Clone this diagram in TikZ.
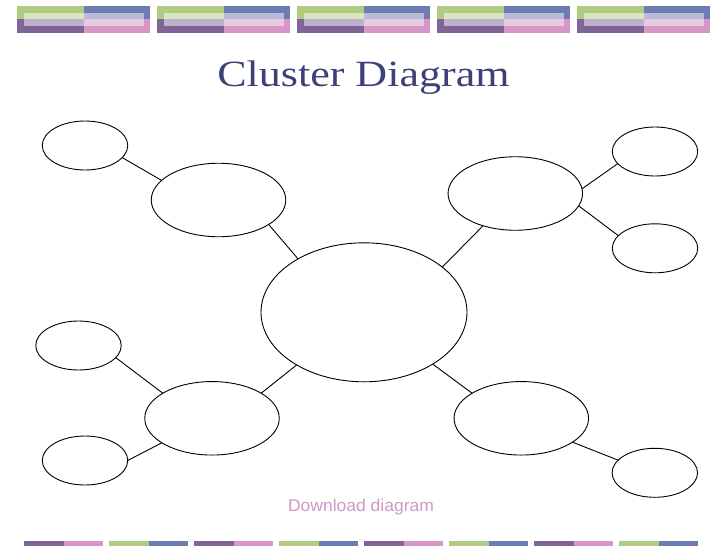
\documentclass[tikz,border=0pt]{standalone}
\usepackage{fontspec}
\setmainfont{Liberation Serif}
\newfontfamily\arialfont{Liberation Sans}
\usetikzlibrary{shapes.geometric}
\definecolor{bgreen}{RGB}{178,203,130}
\definecolor{bblue}{RGB}{110,124,180}
\definecolor{bpurple}{RGB}{128,100,152}
\definecolor{bpink}{RGB}{214,150,198}
\definecolor{titleblue}{RGB}{62,64,122}
\definecolor{dlpink}{RGB}{210,150,200}
\tikzset{
  bub/.style={draw=black, line width=0.9pt, ellipse, inner sep=0pt, outer sep=0pt},
  big/.style={bub, minimum width=206pt, minimum height=139pt},
  mid/.style={bub, minimum width=134.5pt, minimum height=73.5pt},
  sml/.style={bub, minimum width=85.5pt, minimum height=49pt},
  link/.style={line width=0.9pt, black}
}
\begin{document}
\begin{tikzpicture}[x=1pt,y=-1pt]
\useasboundingbox (0,0) rectangle (728,546);
\fill[white] (0,0) rectangle (728,546);
% top banner
\foreach \k in {0,...,4}{
  \pgfmathsetmacro{\xa}{17+140*\k}
  \fill[bgreen]  (\xa,6) rectangle (\xa+67,19.3);
  \fill[bblue]   (\xa+67,6) rectangle (\xa+133,19.3);
  \fill[bpurple] (\xa,19.3) rectangle (\xa+67,32.7);
  \fill[bpink]   (\xa+67,19.3) rectangle (\xa+133,32.7);
  \fill[white, opacity=0.5] (\xa+7,12.7) rectangle (\xa+127,26);
}
% bottom banner
\foreach \k in {0,2,4,6}{
  \pgfmathsetmacro{\xa}{24+85*\k}
  \fill[bpurple] (\xa,540.7) rectangle (\xa+39.5,546);
  \fill[bpink]   (\xa+39.5,540.7) rectangle (\xa+79,546);
}
\foreach \k in {1,3,5,7}{
  \pgfmathsetmacro{\xa}{24+85*\k}
  \fill[bgreen] (\xa,540.7) rectangle (\xa+39.5,546);
  \fill[bblue]  (\xa+39.5,540.7) rectangle (\xa+79,546);
}
% title
\node[anchor=base, text=titleblue, xscale=1.19, inner sep=0pt,
  font=\fontsize{37}{40}\selectfont] (title) at (363.4,86) {Cluster Diagram};
\node[anchor=base, text=dlpink, xscale=1.03, inner sep=0pt,
  font=\arialfont\fontsize{17}{20}\selectfont] (dl) at (361,511) {Download diagram};
% bubbles
\node[big] (c) at (364,312.3) {};
\node[mid] (ul) at (218.5,200) {};
\node[sml] (ul1) at (85,145.5) {};
\node[mid] (ur) at (515.3,193.5) {};
\node[sml] (ur1) at (655,151.5) {};
\node[sml] (ur2) at (655,248.3) {};
\node[mid] (ll) at (212,418.3) {};
\node[sml] (ll1) at (78.5,345.5) {};
\node[sml] (ll2) at (85,460.5) {};
\node[mid] (lr) at (521.3,418.3) {};
\node[sml] (lr1) at (654.8,472.8) {};
% links
\draw[link] (ul1.-18.7) -- (ul.161.1);
\draw[link] (ul.-26.8) -- (c.141.9);
\draw[link] (c.30.5) -- (ur.225.8);
\draw[link] (ur.4.9) -- (ur1.198.9);
\draw[link] (ur.-11.5) -- (ur2.161.1);
\draw[link] (ll1.-18.8) -- (ll.153.1);
\draw[link] (ll2.0) -- (ll.206.7);
\draw[link] (ll.27.3) -- (c.218);
\draw[link] (c.-37.5) -- (lr.153.3);
\draw[link] (lr.-25.8) -- (lr1.161);
\end{tikzpicture}
\end{document}
